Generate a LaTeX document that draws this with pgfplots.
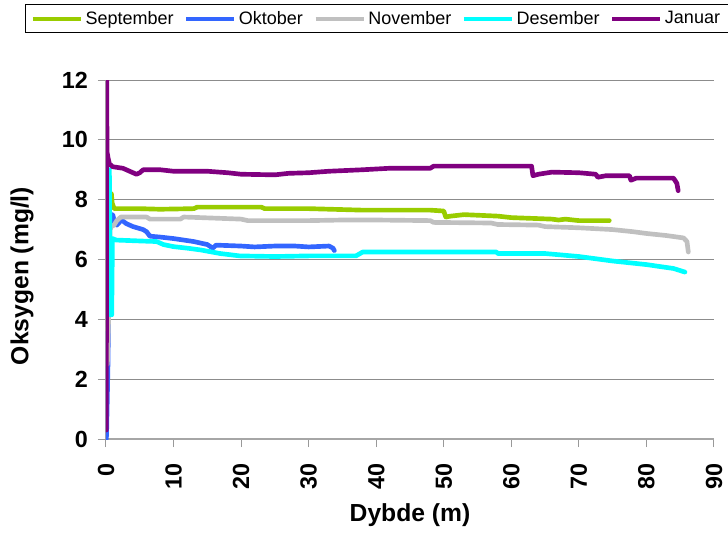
\documentclass[border=0pt]{standalone}
\usepackage{fontspec}
\setmainfont{Liberation Sans}
\usepackage{pgfplots}
\pgfplotsset{compat=1.18}
\definecolor{cSep}{RGB}{153,204,0}
\definecolor{cOkt}{RGB}{51,102,255}
\definecolor{cNov}{RGB}{192,192,192}
\definecolor{cDes}{RGB}{0,255,255}
\definecolor{cJan}{RGB}{128,0,128}
\begin{document}
\begin{tikzpicture}
\useasboundingbox (-79.5pt,-70.5pt) rectangle (466.5pt,329.25pt);
\begin{axis}[
  scale only axis, width=456pt, height=269.25pt,
  xmin=0, xmax=90, ymin=0, ymax=12,
  xtick={0,10,...,90}, ytick={0,2,...,12},
  axis x line=bottom, axis y line=left,
  axis line style={-, draw=gray!70, line width=1pt},
  ymajorgrids, grid style={draw=gray!90, line width=0.75pt},
  tick align=outside, major tick length=6pt,
  tick style={draw=gray!80, line width=0.75pt},
  /pgf/number format/assume math mode=true,
  ticklabel style={font=\fontsize{17.5}{20}\selectfont\bfseries},
  xticklabel style={rotate=90, anchor=east, inner xsep=12pt},
  yticklabel style={xshift=-4pt},
  xlabel={Dybde (m)},
  xlabel style={at={(axis description cs:0.5,-0.2117)}, anchor=center, font=\fontsize{18.5}{22}\selectfont\bfseries},
  ylabel={Oksygen (mg/l)},
  ylabel style={at={(axis description cs:-0.138,0.454)}, anchor=center, font=\fontsize{18.5}{22}\selectfont\bfseries},
  legend columns=5,
  legend style={at={(axis description cs:-0.1332,1.2117)}, anchor=north west, draw=black, line width=0.75pt,
    font=\fontsize{13.5}{16}\selectfont, inner xsep=4pt, inner ysep=3pt,
    /tikz/every even column/.append style={column sep=6pt}},
  legend image code/.code={\draw[#1, line width=3pt, line cap=butt] (0pt,0pt) -- (36pt,0pt);},
  every axis plot/.append style={line width=3.5pt, line join=round, line cap=round, no marks},
]
\addplot[cSep] coordinates {
(0.8,8.2) (0.9,7.9) (1.2,7.7) (5,7.7) (8,7.68) (13,7.7) (13.5,7.75) (23,7.75) (23.5,7.7)
(30,7.7) (38,7.65) (48,7.65) (50,7.62) (50.3,7.42) (51,7.45) (53,7.5) (58,7.45) (60,7.4)
(66,7.35) (67,7.32) (68,7.35) (70,7.3) (74.5,7.3)};
\addlegendentry{September}
\addplot[cOkt] coordinates {
(0.05,0) (0.1,0.35) (0.3,2.6) (0.5,7.0) (0.6,7.5) (1.0,7.5) (1.3,7.2) (1.6,7.15) (2.3,7.32)
(3,7.2) (4,7.1) (5.5,7.0) (6,6.93) (6.5,6.78) (8,6.75) (10,6.7) (13,6.6) (15,6.5) (15.8,6.38)
(16.3,6.48) (20,6.45) (22,6.42) (25,6.45) (28,6.45) (30,6.42) (33,6.45) (33.6,6.38) (33.8,6.3)};
\addlegendentry{Oktober}
\addplot[cNov] coordinates {
(0.2,2.5) (0.4,4.2) (0.6,7.0) (0.8,7.1) (1.2,7.15) (1.6,7.3) (2.2,7.42) (6,7.42) (6.5,7.35)
(11,7.35) (11.5,7.42) (14,7.4) (20,7.35) (21,7.3) (30,7.3) (35,7.32) (40,7.32) (48,7.3)
(48.5,7.24) (57,7.22) (58,7.17) (64,7.15) (65,7.1) (70,7.06) (75,7.0) (78,6.93) (80,6.87)
(83,6.8) (85.5,6.72) (86,6.6) (86.2,6.25)};
\addlegendentry{November}
\addplot[cDes] coordinates {
(0.5,9.0) (0.65,4.15) (0.85,4.15) (0.95,6.7) (1.5,6.65) (5,6.62) (7.5,6.6) (8.5,6.5) (10,6.43)
(12,6.38) (14,6.32) (16.9,6.2) (19.8,6.12) (25,6.1) (30,6.12) (37,6.12) (38,6.25) (45,6.25)
(57.8,6.25) (58,6.2) (65,6.2) (70,6.1) (75,5.95) (80,5.83) (84,5.7) (85.7,5.58)};
\addlegendentry{Desember}
\addplot[cJan] coordinates {
(0.05,0.3) (0.1,12.6) (0.15,9.6) (0.3,9.4) (0.5,9.2) (1,9.1) (2.5,9.05) (3,9.0) (4,8.9)
(4.5,8.85) (5,8.9) (5.5,9.0) (8,9.0) (10,8.95) (15,8.95) (18,8.9) (20,8.85) (25,8.83) (27,8.88)
(30,8.9) (33,8.95) (38,9.0) (42,9.05) (48,9.05) (48.5,9.12) (63,9.12) (63.2,8.8) (64,8.85)
(66,8.92) (70,8.9) (72.5,8.85) (72.8,8.75) (74,8.8) (77.5,8.8) (77.7,8.65) (78.5,8.72)
(84,8.72) (84.5,8.55) (84.7,8.3)};
\addlegendentry{Januar}
\end{axis}
\end{tikzpicture}
\end{document}
